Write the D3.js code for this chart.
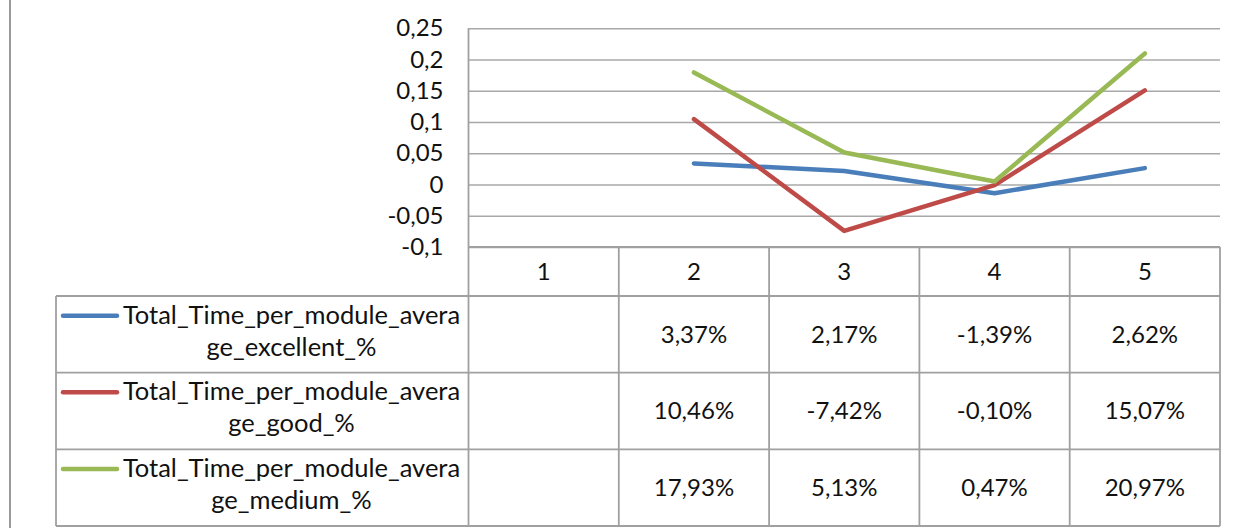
<!DOCTYPE html>
<html>
<head>
<meta charset="utf-8">
<script src="https://cdn.jsdelivr.net/npm/d3@7"></script>
<style>
  html, body { margin: 0; padding: 0; background: #fff; }
  svg { display: block; font-family: Lato, "Open Sans", sans-serif; }
</style>
</head>
<body>
<svg id="chart" width="1238" height="528"></svg>
<script>
// Module categories along the x axis
const categories = ["1", "2", "3", "4", "5"];

// Series names and their values per module (null = no value)
const seriesNames = [
  "Total_Time_per_module_average_excellent_%",
  "Total_Time_per_module_average_good_%",
  "Total_Time_per_module_average_medium_%"
];
const excellentValues = [null, 0.0337, 0.0217, -0.0139, 0.0262];
const goodValues      = [null, 0.1046, -0.0742, -0.0010, 0.1507];
const mediumValues    = [null, 0.1793, 0.0513, 0.0047, 0.2097];

// Legend label split into two lines as in the data table
const legendLines = [
  ["Total_Time_per_module_avera", "ge_excellent_%"],
  ["Total_Time_per_module_avera", "ge_good_%"],
  ["Total_Time_per_module_avera", "ge_medium_%"]
];

// Value axis ticks
const yTicks = [-0.1, -0.05, 0, 0.05, 0.1, 0.15, 0.2, 0.25];

const seriesColors = ["#4a7ebb", "#be4b48", "#98b954"];
const series = [excellentValues, goodValues, mediumValues].map((vals, i) => ({
  name: seriesNames[i],
  lines: legendLines[i],
  color: seriesColors[i],
  values: vals
}));

const locale = d3.formatLocale({
  decimal: ",", thousands: ".", grouping: [3], currency: ["", ""], minus: "-"
});
const tickFmt = locale.format(".2~f");
const pctFmt = locale.format(".2%");

const svg = d3.select("#chart");

const plotLeft = 468.5, plotRight = 1220, plotTop = 28.3, plotBottom = 247;
const tableLeft = 56, tableBottom = 526, headerBottom = 296;
const gridColor = "#a8a8a8";
const tableColor = "#a0a0a0";
const numSize = 24, labelSize = 25.5;

const x = d3.scaleBand().domain(categories).range([plotLeft, plotRight]);
const y = d3.scaleLinear().domain([-0.1, 0.25]).range([plotBottom, plotTop]);
const row = d3.scaleBand().domain(seriesNames).range([headerBottom, tableBottom]);

// Outer frame line on the left
svg.append("line")
  .attr("x1", 10).attr("x2", 10).attr("y1", 0).attr("y2", 528)
  .attr("stroke", "#9a9a9a").attr("stroke-width", 2);

// Value axis with gridlines
const yAxis = svg.append("g")
  .attr("transform", `translate(${plotLeft},0)`)
  .call(d3.axisLeft(y)
    .tickValues(yTicks)
    .tickFormat(tickFmt)
    .tickSizeInner(-(plotRight - plotLeft))
    .tickSizeOuter(0)
    .tickPadding(25));
yAxis.select(".domain").remove();
yAxis.selectAll(".tick line")
  .attr("stroke", gridColor).attr("stroke-width", 1.6);
yAxis.selectAll(".tick text")
  .attr("font-size", numSize).attr("fill", "#111")
  .attr("font-family", "Lato, sans-serif");

// Data table grid
const grid = svg.append("g")
  .attr("stroke", tableColor).attr("stroke-width", 1.8).attr("fill", "none");

// vertical column dividers (category columns)
const colEdges = categories.map(c => x(c)).concat([x(categories[categories.length - 1]) + x.bandwidth()]);
grid.selectAll("line.col").data(colEdges).join("line")
  .attr("class", "col")
  .attr("x1", d => d).attr("x2", d => d)
  .attr("y1", (d, i) => i === 0 ? plotTop : plotBottom)
  .attr("y2", tableBottom);
// left edge of legend column
grid.append("line")
  .attr("x1", tableLeft).attr("x2", tableLeft)
  .attr("y1", headerBottom).attr("y2", tableBottom);
// header top
grid.append("line")
  .attr("x1", plotLeft).attr("x2", plotRight)
  .attr("y1", plotBottom).attr("y2", plotBottom);
// row dividers
const rowEdges = seriesNames.map(n => row(n)).concat([tableBottom]);
grid.selectAll("line.row").data(rowEdges).join("line")
  .attr("class", "row")
  .attr("x1", tableLeft).attr("x2", plotRight)
  .attr("y1", d => d).attr("y2", d => d);

// Header labels
svg.append("g").selectAll("text").data(categories).join("text")
  .attr("x", d => x(d) + x.bandwidth() / 2)
  .attr("y", (plotBottom + headerBottom) / 2)
  .attr("dy", "0.35em")
  .attr("text-anchor", "middle")
  .attr("font-size", numSize).attr("fill", "#111")
  .text(d => d);

// Legend keys and two-line labels
const legend = svg.append("g").selectAll("g").data(series).join("g")
  .attr("transform", d => `translate(0,${row(d.name)})`);
legend.append("line")
  .attr("x1", 63).attr("x2", 117).attr("y1", 19.7).attr("y2", 19.7)
  .attr("stroke", d => d.color).attr("stroke-width", 4.5)
  .attr("stroke-linecap", "round");
legend.append("text")
  .attr("text-anchor", "middle")
  .attr("font-size", labelSize).attr("fill", "#111")
  .selectAll("tspan").data(d => d.lines).join("tspan")
  .attr("x", 291.5)
  .attr("y", (d, i) => 27.5 + i * 32)
  .text(d => d);

// Table values
const cells = svg.append("g").selectAll("g").data(series).join("g")
  .attr("transform", d => `translate(0,${row(d.name) + row.bandwidth() / 2})`);
cells.selectAll("text")
  .data(d => d.values.map((v, i) => ({ v, c: categories[i] })).filter(e => e.v !== null))
  .join("text")
  .attr("x", e => x(e.c) + x.bandwidth() / 2)
  .attr("dy", "0.35em")
  .attr("text-anchor", "middle")
  .attr("font-size", numSize).attr("fill", "#111")
  .text(e => pctFmt(e.v));

// Series lines
const line = d3.line()
  .defined(v => v !== null)
  .x((v, i) => x(categories[i]) + x.bandwidth() / 2)
  .y(v => y(v));
svg.append("g").selectAll("path").data(series).join("path")
  .attr("d", d => line(d.values))
  .attr("fill", "none")
  .attr("stroke", d => d.color)
  .attr("stroke-width", 4.5)
  .attr("stroke-linejoin", "round")
  .attr("stroke-linecap", "round");
</script>
</body>
</html>
